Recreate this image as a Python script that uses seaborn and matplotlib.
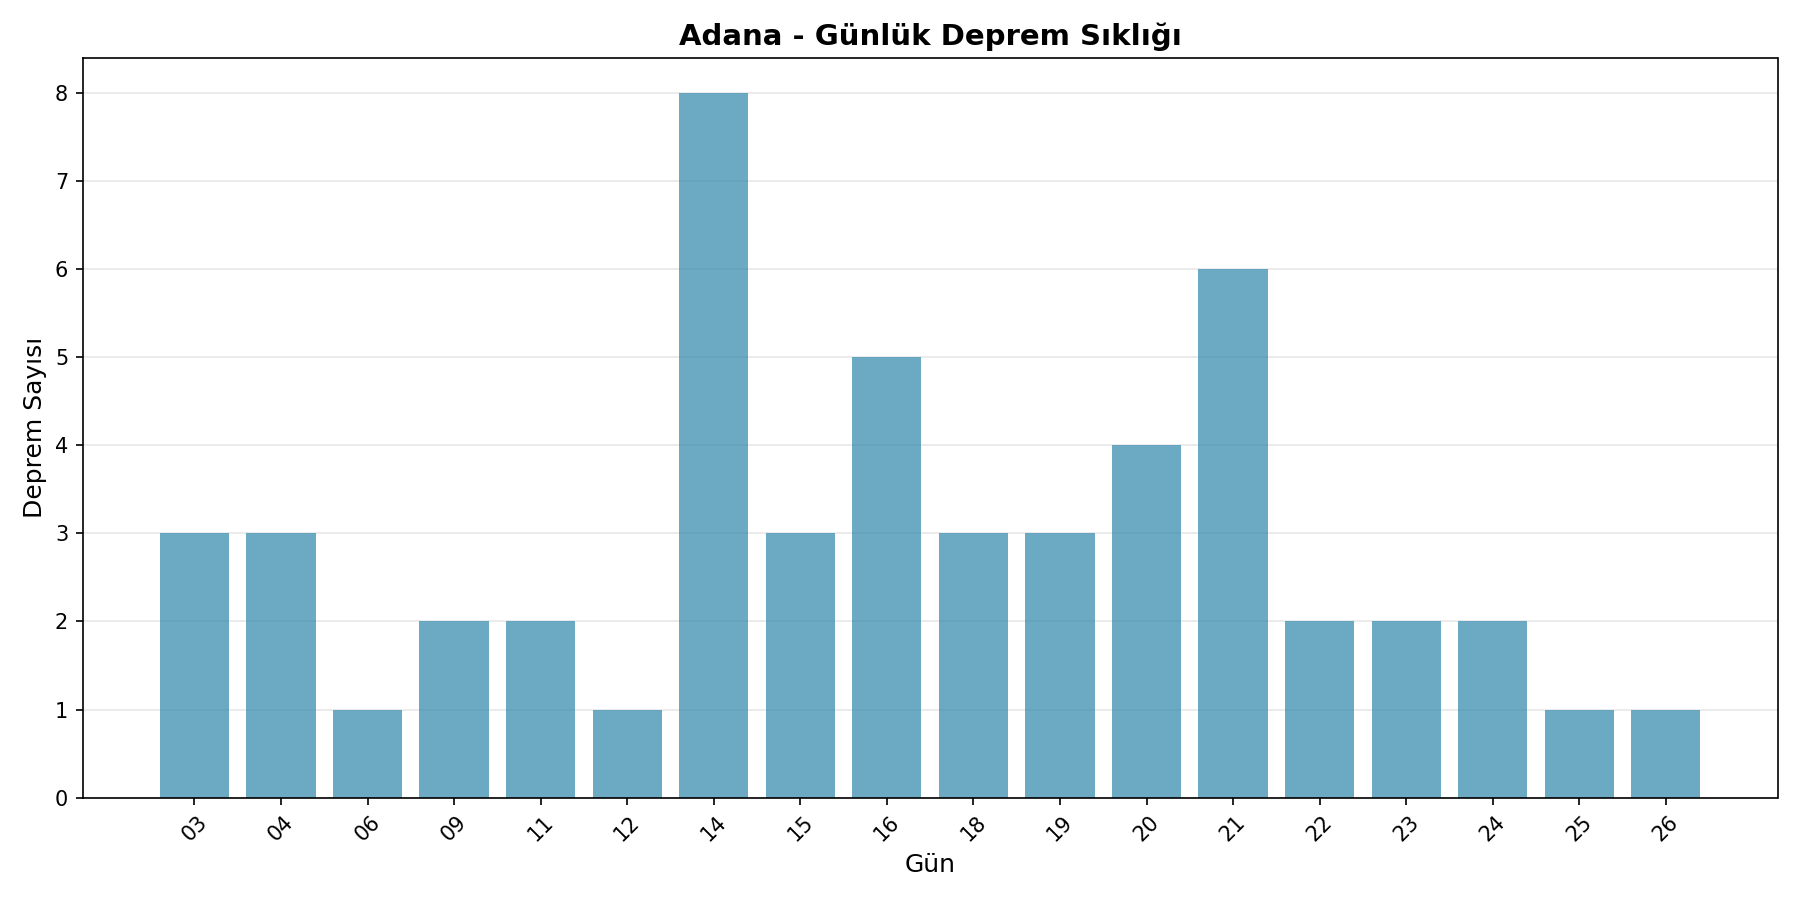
import matplotlib
matplotlib.use('Agg')
import matplotlib.pyplot as plt
import seaborn as sns
import pandas as pd

# daily earthquake counts for Adana
days   = ["03", "04", "06", "09", "11", "12", "14", "15", "16",
          "18", "19", "20", "21", "22", "23", "24", "25", "26"]
counts = [3, 3, 1, 2, 2, 1, 8, 3, 5, 3, 3, 4, 6, 2, 2, 2, 1, 1]

df = pd.DataFrame({"gun": days, "sayi": counts})

fig, ax = plt.subplots(figsize=(12, 6), dpi=150)
sns.barplot(data=df, x="gun", y="sayi", color="#2E86AB", alpha=0.7,
            width=0.8, saturation=1, ax=ax, zorder=2)

# mimic matplotlib default 5% margins instead of seaborn's categorical limits
n = len(days)
span = (n - 1 + 0.8)
ax.set_xlim(-0.4 - 0.05 * span, n - 1 + 0.4 + 0.05 * span)
ax.set_ylim(0, max(counts) * 1.05)

ax.set_title("Adana - Günlük Deprem Sıklığı", fontsize=14, fontweight="bold")
ax.set_xlabel("Gün", fontsize=12)
ax.set_ylabel("Deprem Sayısı", fontsize=12)
ax.tick_params(axis="x", rotation=45)
ax.grid(axis="y", alpha=0.3, zorder=0)
ax.set_axisbelow(True)

plt.tight_layout()
plt.savefig("out.png", dpi=150)
plt.close()
